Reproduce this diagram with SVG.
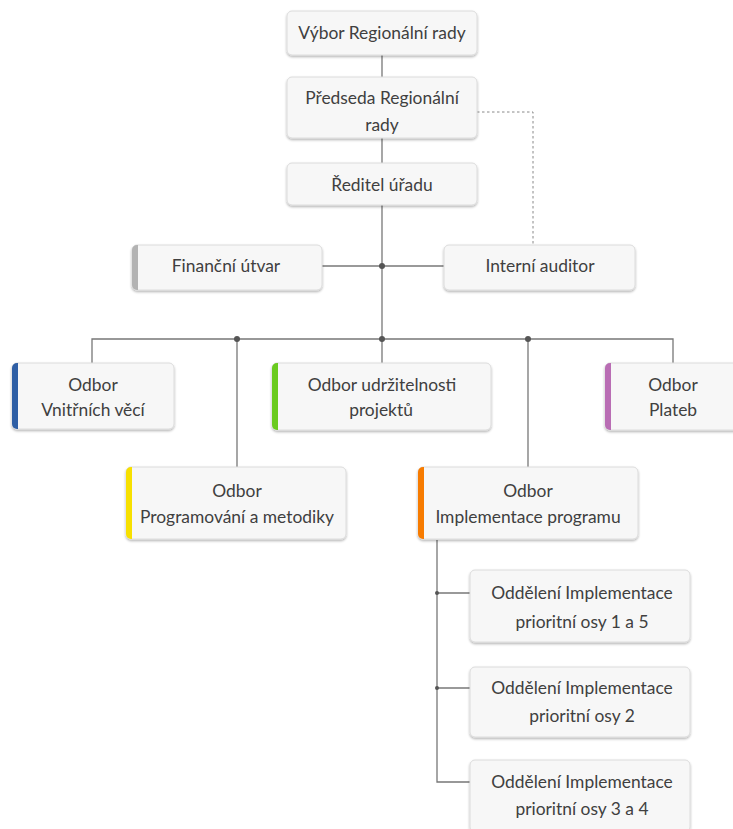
<svg xmlns="http://www.w3.org/2000/svg" width="733" height="829" viewBox="0 0 733 829">
<defs>
<filter id="sh" x="-10%" y="-10%" width="120%" height="130%">
<feDropShadow dx="0" dy="1.5" stdDeviation="1.2" flood-color="#000" flood-opacity="0.3"/>
</filter>
</defs>
<style>
.box{fill:#f7f7f7;stroke:#dcdcdc;stroke-width:1;filter:url(#sh)}
.t{font-family:Lato,"Open Sans","Liberation Sans",sans-serif;font-size:17.4px;fill:#404040;text-anchor:middle}
.ln{stroke:#777;stroke-width:1.3;fill:none}
.dash{stroke:#888;stroke-width:1;stroke-dasharray:2.5 2.5;fill:none}
.dot{fill:#555}
</style>
<rect width="733" height="829" fill="#fff"/>
<g id="connectors">
<line class="ln" x1="382" y1="55" x2="382" y2="77"/>
<line class="ln" x1="382" y1="138" x2="382" y2="163"/>
<line class="ln" x1="382" y1="205" x2="382" y2="363"/>
<path class="dash" d="M477,112 H533 V245"/>
<line class="ln" x1="322" y1="266" x2="444" y2="266"/>
<circle class="dot" cx="382" cy="266" r="3"/>
<path class="ln" d="M92,363 V339 H673 V363"/>
<line class="ln" x1="237" y1="339" x2="237" y2="467"/>
<line class="ln" x1="528" y1="339" x2="528" y2="467"/>
<circle class="dot" cx="237" cy="339" r="3"/>
<circle class="dot" cx="382" cy="339" r="3"/>
<circle class="dot" cx="528" cy="339" r="3"/>
<path class="ln" d="M437,540 V782 H470"/>
<line class="ln" x1="437" y1="593" x2="470" y2="593"/>
<line class="ln" x1="437" y1="688" x2="470" y2="688"/>
<circle class="dot" cx="437" cy="593" r="2"/>
<circle class="dot" cx="437" cy="688" r="2"/>
</g>
<g id="n-vybor">
<rect class="box" x="287" y="11" width="190" height="44" rx="5"/>
<text class="t" x="382" y="39">Výbor Regionální rady</text>
</g>
<g id="n-predseda">
<rect class="box" x="287" y="77" width="190" height="61" rx="5"/>
<text class="t" x="382" y="104">Předseda Regionální</text>
<text class="t" x="382" y="131">rady</text>
</g>
<g id="n-reditel">
<rect class="box" x="287" y="163" width="190" height="42" rx="5"/>
<text class="t" x="382" y="191">Ředitel úřadu</text>
</g>
<g id="n-financni">
<rect class="box" x="132" y="245" width="190" height="45" rx="5"/>
<path d="M138,245 h-1 a5,5 0 0 0 -5,5 v35 a5,5 0 0 0 5,5 h1 z" fill="#b3b3b3"/>
<text class="t" x="226" y="272">Finanční útvar</text>
</g>
<g id="n-auditor">
<rect class="box" x="444" y="245" width="191" height="45" rx="5"/>
<text class="t" x="540" y="272">Interní auditor</text>
</g>
<g id="n-vnitrnich">
<rect class="box" x="12" y="363" width="162" height="66" rx="5"/>
<path d="M18,363 h-1 a5,5 0 0 0 -5,5 v56 a5,5 0 0 0 5,5 h1 z" fill="#2f5fa5"/>
<text class="t" x="93" y="391">Odbor</text>
<text class="t" x="93" y="416">Vnitřních věcí</text>
</g>
<g id="n-udrzitelnosti">
<rect class="box" x="272" y="363" width="219" height="67" rx="5"/>
<path d="M278,363 h-1 a5,5 0 0 0 -5,5 v57 a5,5 0 0 0 5,5 h1 z" fill="#6acb1f"/>
<text class="t" x="382" y="391">Odbor udržitelnosti</text>
<text class="t" x="381" y="416">projektů</text>
</g>
<g id="n-plateb">
<rect class="box" x="605" y="363" width="136" height="67" rx="5"/>
<path d="M611,363 h-1 a5,5 0 0 0 -5,5 v57 a5,5 0 0 0 5,5 h1 z" fill="#b96db4"/>
<text class="t" x="673" y="391">Odbor</text>
<text class="t" x="673" y="416">Plateb</text>
</g>
<g id="n-programovani">
<rect class="box" x="126" y="467" width="220" height="72" rx="5"/>
<path d="M132,467 h-1 a5,5 0 0 0 -5,5 v62 a5,5 0 0 0 5,5 h1 z" fill="#f7e000"/>
<text class="t" x="237" y="497">Odbor</text>
<text class="t" x="237" y="523">Programování a metodiky</text>
</g>
<g id="n-implementace">
<rect class="box" x="418" y="467" width="220" height="72" rx="5"/>
<path d="M424,467 h-1 a5,5 0 0 0 -5,5 v62 a5,5 0 0 0 5,5 h1 z" fill="#f77b00"/>
<text class="t" x="528" y="497">Odbor</text>
<text class="t" x="528" y="523">Implementace programu</text>
</g>
<g id="n-osy15">
<rect class="box" x="470" y="570" width="220" height="72" rx="5"/>
<text class="t" x="582" y="599">Oddělení Implementace</text>
<text class="t" x="582" y="628">prioritní osy 1 a 5</text>
</g>
<g id="n-osy2">
<rect class="box" x="470" y="667" width="220" height="70" rx="5"/>
<text class="t" x="582" y="694">Oddělení Implementace</text>
<text class="t" x="582" y="722">prioritní osy 2</text>
</g>
<g id="n-osy34">
<rect class="box" x="470" y="760" width="220" height="72" rx="5"/>
<text class="t" x="582" y="788">Oddělení Implementace</text>
<text class="t" x="582" y="815">prioritní osy 3 a 4</text>
</g>
</svg>
